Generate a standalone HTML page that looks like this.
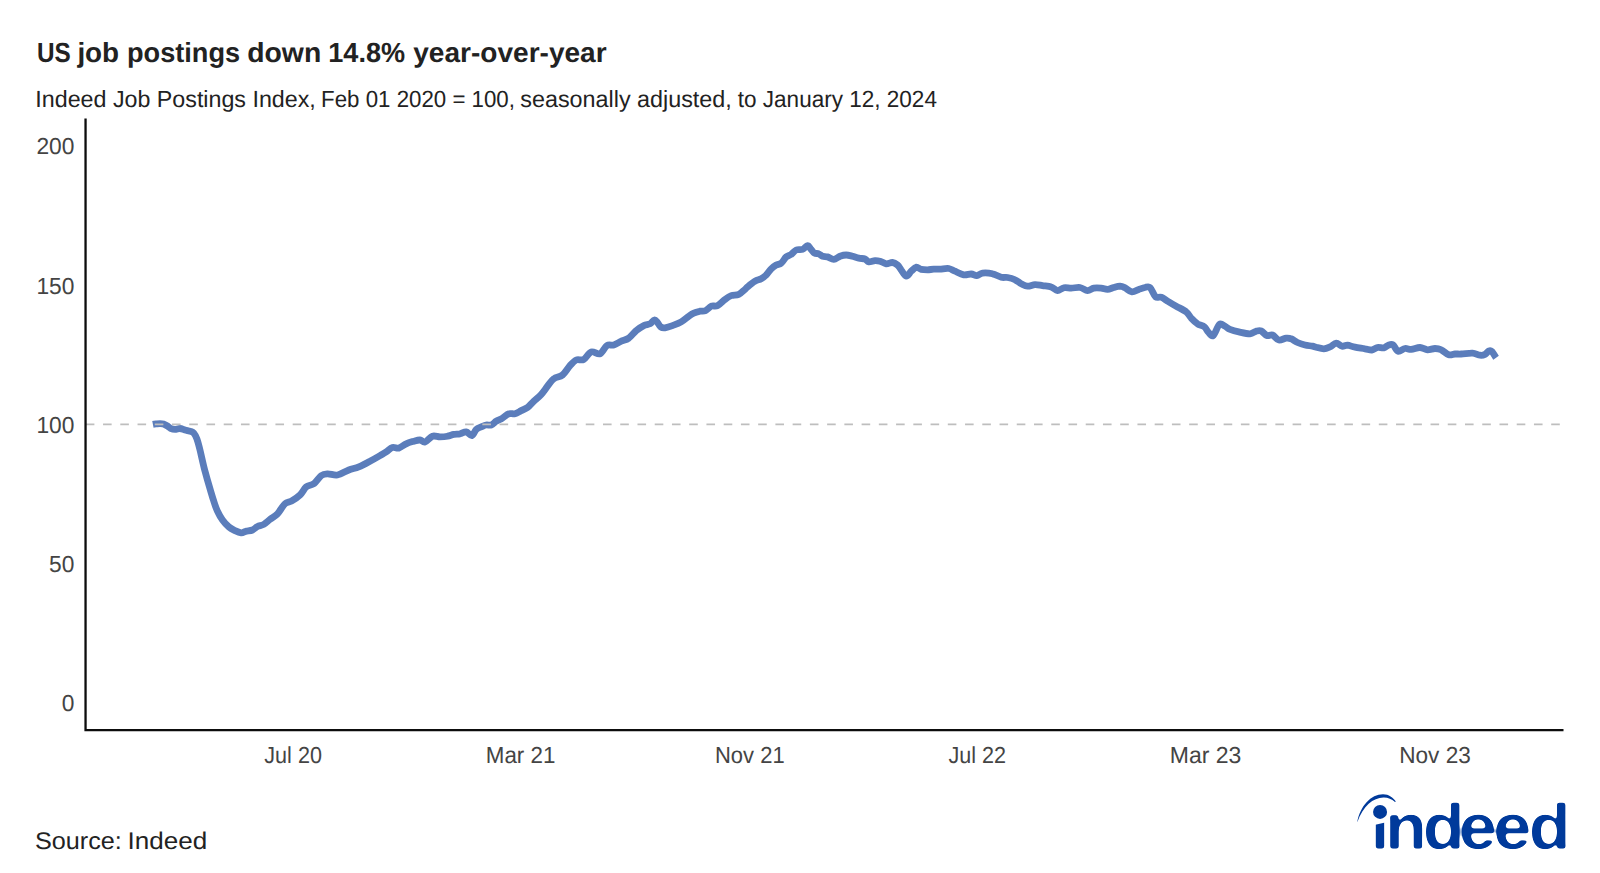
<!DOCTYPE html>
<html lang="en">
<head>
<meta charset="utf-8">
<title>US job postings down 14.8% year-over-year</title>
<style>
html,body{margin:0;padding:0;background:#fff;}
body{width:1600px;height:873px;overflow:hidden;font-family:"Liberation Sans", sans-serif;}
svg{display:block}
text{font-family:"Liberation Sans", sans-serif;text-rendering:geometricPrecision;}
.title{font-weight:700;font-size:27.7px;fill:#222;}
.sub{font-size:23.4px;fill:#222;}
.tick{font-size:23.2px;fill:#444;}
.src{font-size:24.1px;fill:#222;}
.logo{font-weight:700;font-size:64.7px;fill:#003a9b;}
</style>
</head>
<body>
<svg width="1600" height="873" viewBox="0 0 1600 873">
<rect width="1600" height="873" fill="#ffffff"/>
<!-- titles -->
<text class="title" y="61.9"><tspan x="37.06" textLength="33.79" lengthAdjust="spacingAndGlyphs">US</tspan> <tspan x="77.4" textLength="41.73" lengthAdjust="spacingAndGlyphs">job</tspan> <tspan x="127.04" textLength="113.07" lengthAdjust="spacingAndGlyphs">postings</tspan> <tspan x="247.22" textLength="74.0" lengthAdjust="spacingAndGlyphs">down</tspan> <tspan x="328.29" textLength="76.86" lengthAdjust="spacingAndGlyphs">14.8%</tspan> <tspan x="413.25" textLength="193.38" lengthAdjust="spacingAndGlyphs">year-over-year</tspan></text>
<text class="sub" y="107.3"><tspan x="35.36" textLength="280.41" lengthAdjust="spacingAndGlyphs">Indeed Job Postings Index,</tspan> <tspan x="321.1" textLength="193.85" lengthAdjust="spacingAndGlyphs">Feb 01 2020 = 100,</tspan> <tspan x="520.25" textLength="211.56" lengthAdjust="spacingAndGlyphs">seasonally adjusted,</tspan> <tspan x="737.76" textLength="199.19" lengthAdjust="spacingAndGlyphs">to January 12, 2024</tspan></text>
<!-- y tick labels -->
<g>
<text class="tick" x="36.4" y="154.2" textLength="38.0" lengthAdjust="spacingAndGlyphs">200</text>
<text class="tick" x="36.4" y="293.5" textLength="38.0" lengthAdjust="spacingAndGlyphs">150</text>
<text class="tick" x="36.4" y="432.8" textLength="38.0" lengthAdjust="spacingAndGlyphs">100</text>
<text class="tick" x="49.07" y="572.1" textLength="25.33" lengthAdjust="spacingAndGlyphs">50</text>
<text class="tick" x="61.73" y="711.4" textLength="12.67" lengthAdjust="spacingAndGlyphs">0</text>
</g>
<!-- data line -->
<path d="M152.9,424.3C153.4,424.2 154.8,424.0 156.0,423.9C157.2,423.8 158.8,423.6 160.0,423.6C161.2,423.6 162.3,423.6 163.5,424.0C164.7,424.4 165.8,425.1 167.0,425.8C168.2,426.5 169.2,427.7 170.5,428.3C171.8,428.9 173.4,429.4 175.0,429.4C176.6,429.4 178.3,428.4 180.0,428.5C181.7,428.6 183.3,429.5 185.0,430.0C186.7,430.5 188.5,430.7 190.0,431.2C191.5,431.8 192.6,431.9 193.8,433.1C194.9,434.4 195.9,435.9 196.9,438.8C197.9,441.6 198.7,444.6 200.0,450.0C201.3,455.4 203.3,464.8 205.0,471.2C206.7,477.7 208.5,483.8 210.0,488.8C211.5,493.8 212.5,497.5 213.8,501.2C215.0,505.0 216.0,508.1 217.5,511.2C219.0,514.4 220.6,517.4 222.5,520.0C224.4,522.6 226.7,525.1 228.8,526.9C230.8,528.7 232.9,529.6 235.0,530.6C237.1,531.6 239.4,532.6 241.2,532.8C243.1,532.9 244.4,531.7 246.2,531.2C248.1,530.8 250.6,530.8 252.5,530.0C254.4,529.2 255.6,527.4 257.5,526.5C259.4,525.6 261.7,525.6 263.8,524.4C265.8,523.2 267.7,521.2 270.0,519.4C272.3,517.6 275.0,516.4 277.5,513.8C280.0,511.1 282.7,505.8 285.0,503.8C287.3,501.7 288.8,502.7 291.2,501.2C293.8,499.8 297.5,497.4 300.0,495.0C302.5,492.6 304.0,488.8 306.2,486.9C308.5,485.0 311.2,485.6 313.8,483.8C316.2,481.9 319.0,477.3 321.2,475.6C323.5,473.9 324.8,473.9 327.5,473.8C330.2,473.6 334.0,475.6 337.5,475.0C341.0,474.4 345.2,471.4 348.8,470.0C352.3,468.6 355.2,468.4 358.8,466.9C362.3,465.4 366.5,463.1 370.0,461.2C373.5,459.4 377.3,457.2 380.0,455.6C382.7,454.0 384.2,453.2 386.2,451.9C388.3,450.5 390.4,448.1 392.5,447.5C394.6,446.9 396.5,448.7 398.8,448.1C401.0,447.5 403.8,444.9 406.2,443.8C408.8,442.6 411.5,441.9 413.8,441.2C416.0,440.6 418.1,439.9 420.0,440.0C421.9,440.1 422.9,442.5 425.0,441.9C427.1,441.3 430.0,437.1 432.5,436.2C435.0,435.4 437.5,436.9 440.0,436.9C442.5,436.9 445.2,436.7 447.5,436.2C449.8,435.8 451.7,434.8 453.8,434.4C455.8,434.0 457.9,434.2 460.0,433.8C462.1,433.3 464.3,431.6 466.2,431.9C468.2,432.2 470.2,436.0 471.9,435.6C473.6,435.2 474.7,430.8 476.2,429.4C477.8,427.9 479.6,427.6 481.2,426.9C482.9,426.2 484.6,425.3 486.2,425.0C487.9,424.7 489.6,425.6 491.2,425.0C492.9,424.4 494.4,422.4 496.2,421.2C498.1,420.1 500.4,419.4 502.5,418.1C504.6,416.9 506.7,414.5 508.8,413.8C510.8,413.0 512.9,414.3 515.0,413.8C517.1,413.2 519.2,411.6 521.2,410.6C523.3,409.6 525.4,409.1 527.5,407.5C529.6,405.9 531.5,403.4 533.8,401.2C536.0,399.1 539.0,396.9 541.2,394.4C543.5,391.9 545.4,388.9 547.5,386.2C549.6,383.6 551.2,380.6 553.8,378.8C556.2,376.9 559.8,377.2 562.5,375.0C565.2,372.8 567.7,368.1 570.0,365.6C572.3,363.1 574.0,361.0 576.2,360.0C578.5,359.0 581.2,360.8 583.8,359.4C586.2,358.0 588.5,352.8 591.2,351.9C594.0,351.0 597.4,354.8 600.0,353.8C602.6,352.7 604.6,347.1 606.9,345.6C609.2,344.1 611.4,345.7 613.8,345.0C616.1,344.3 618.8,342.4 621.2,341.2C623.8,340.1 626.2,339.9 628.8,338.1C631.2,336.3 633.8,332.7 636.2,330.6C638.8,328.5 641.5,326.7 643.8,325.6C646.0,324.5 648.2,324.7 650.0,323.8C651.8,322.8 653.1,320.2 654.4,320.0C655.6,319.8 656.5,321.4 657.5,322.5C658.5,323.6 659.4,326.0 660.6,326.9C661.9,327.8 663.0,328.0 665.0,327.8C667.0,327.5 669.8,326.6 672.5,325.6C675.2,324.6 678.5,323.5 681.2,321.9C684.0,320.3 686.7,317.7 688.8,316.2C690.8,314.8 691.9,313.9 693.8,313.1C695.6,312.3 698.0,311.7 700.0,311.2C702.0,310.8 703.7,311.4 705.6,310.6C707.5,309.8 709.3,307.1 711.2,306.2C713.2,305.4 715.2,306.7 717.5,305.6C719.8,304.5 722.7,301.1 725.0,299.4C727.3,297.7 729.0,296.4 731.2,295.6C733.5,294.8 736.5,295.4 738.8,294.4C741.0,293.4 743.5,290.6 745.0,289.4C746.5,288.1 745.8,288.3 747.5,286.9C749.2,285.5 752.7,282.6 755.0,281.2C757.3,279.9 759.4,279.8 761.2,278.8C763.1,277.7 764.6,276.7 766.2,275.0C767.9,273.3 769.6,270.4 771.2,268.8C772.9,267.1 774.6,265.9 776.2,265.0C777.9,264.1 779.6,264.5 781.2,263.1C782.9,261.8 784.6,258.3 786.2,256.9C787.9,255.4 789.6,255.6 791.2,254.4C792.9,253.2 794.4,250.8 796.2,250.0C798.1,249.2 800.6,250.1 802.5,249.4C804.4,248.7 806.1,245.7 807.5,245.6C808.9,245.5 809.5,247.5 810.6,248.8C811.8,250.0 813.0,252.3 814.4,253.1C815.8,253.9 817.4,253.2 818.8,253.8C820.1,254.3 821.0,255.7 822.5,256.2C824.0,256.8 825.6,256.4 827.5,256.9C829.4,257.4 831.7,259.5 833.8,259.4C835.8,259.3 837.9,257.0 840.0,256.2C842.1,255.5 844.2,255.0 846.2,255.0C848.3,255.0 850.4,255.7 852.5,256.2C854.6,256.8 856.7,257.6 858.8,258.1C860.8,258.6 863.3,258.4 865.0,259.0C866.7,259.6 867.1,261.6 868.8,261.9C870.4,262.2 873.1,260.7 875.0,260.6C876.9,260.5 878.1,260.7 880.0,261.2C881.9,261.8 884.2,263.5 886.2,263.8C888.3,264.0 890.6,262.3 892.5,262.5C894.4,262.7 896.0,263.8 897.5,265.0C899.0,266.2 899.8,268.1 901.2,270.0C902.7,271.9 904.6,276.0 906.2,276.2C907.9,276.5 909.6,272.8 911.2,271.2C912.9,269.8 914.6,267.6 916.2,267.2C917.9,266.9 919.4,269.0 921.2,269.4C923.1,269.8 925.4,269.8 927.5,269.8C929.6,269.7 931.7,269.3 933.8,269.2C935.8,269.1 937.5,269.2 940.0,269.1C942.5,269.0 946.2,268.1 948.8,268.5C951.2,268.9 952.5,270.2 955.0,271.2C957.5,272.3 961.0,274.3 963.8,274.8C966.5,275.2 969.1,273.9 971.2,274.0C973.4,274.1 975.0,275.8 976.9,275.6C978.8,275.5 979.9,273.4 982.5,273.1C985.1,272.8 989.4,273.1 992.5,273.8C995.6,274.4 998.8,276.6 1001.2,277.2C1003.8,277.9 1005.2,277.1 1007.5,277.5C1009.8,277.9 1012.7,278.7 1015.0,279.8C1017.3,280.8 1019.2,282.7 1021.2,283.8C1023.3,284.8 1025.2,286.1 1027.5,286.2C1029.8,286.4 1032.5,284.7 1035.0,284.6C1037.5,284.5 1039.8,285.2 1042.5,285.6C1045.2,286.0 1048.8,286.1 1051.2,286.9C1053.8,287.7 1055.4,290.5 1057.5,290.6C1059.6,290.7 1061.5,288.2 1063.8,287.8C1066.0,287.3 1068.5,288.1 1071.2,288.1C1074.0,288.1 1077.3,287.1 1080.0,287.5C1082.7,287.9 1085.2,290.5 1087.5,290.6C1089.8,290.7 1091.5,288.5 1093.8,288.1C1096.0,287.7 1099.0,287.9 1101.2,288.1C1103.5,288.3 1105.4,289.5 1107.5,289.4C1109.6,289.3 1111.7,288.1 1113.8,287.5C1115.8,286.9 1118.1,286.1 1120.0,286.1C1121.9,286.2 1123.0,286.8 1125.0,287.8C1127.0,288.8 1129.6,291.6 1131.9,291.9C1134.2,292.2 1136.6,290.1 1138.8,289.4C1140.9,288.7 1143.1,287.8 1145.0,287.5C1146.9,287.2 1148.2,285.9 1150.0,287.5C1151.8,289.1 1153.7,295.3 1155.6,296.9C1157.5,298.5 1159.1,296.4 1161.2,297.2C1163.4,298.1 1166.2,300.4 1168.8,301.9C1171.2,303.4 1173.3,304.6 1176.2,306.2C1179.2,307.9 1183.8,309.9 1186.2,311.9C1188.8,313.9 1189.4,316.1 1191.2,318.1C1193.1,320.1 1195.3,322.3 1197.5,323.8C1199.7,325.2 1202.6,325.5 1204.4,326.9C1206.2,328.3 1206.6,330.4 1208.1,331.9C1209.5,333.3 1211.2,336.9 1213.1,335.6C1215.0,334.4 1217.4,326.0 1219.4,324.4C1221.4,322.8 1223.2,325.4 1225.0,326.2C1226.8,327.1 1227.7,328.5 1230.0,329.4C1232.3,330.3 1235.4,331.2 1238.8,331.9C1242.1,332.6 1247.1,333.9 1250.0,333.8C1252.9,333.6 1254.4,331.7 1256.2,331.2C1258.1,330.8 1259.5,330.3 1261.2,331.0C1263.0,331.7 1265.0,334.9 1266.9,335.6C1268.8,336.3 1270.5,334.3 1272.5,335.0C1274.5,335.7 1276.5,339.5 1278.8,340.0C1281.0,340.5 1284.2,338.3 1286.2,338.1C1288.3,337.9 1289.4,338.0 1291.2,338.8C1293.1,339.5 1295.2,341.5 1297.5,342.5C1299.8,343.5 1302.5,344.4 1305.0,345.0C1307.5,345.6 1310.6,345.8 1312.5,346.2C1314.4,346.6 1314.4,346.8 1316.2,347.2C1318.1,347.7 1321.5,348.8 1323.8,348.8C1326.0,348.7 1327.9,347.8 1330.0,346.9C1332.1,346.0 1334.3,343.2 1336.2,343.1C1338.2,343.0 1340.0,345.9 1341.9,346.2C1343.8,346.6 1345.3,345.1 1347.5,345.2C1349.7,345.4 1352.1,346.7 1355.0,347.2C1357.9,347.8 1362.2,348.3 1365.0,348.8C1367.8,349.2 1369.8,350.2 1371.9,350.0C1374.0,349.8 1375.5,347.9 1377.5,347.5C1379.5,347.1 1381.9,348.3 1383.8,347.9C1385.6,347.5 1387.2,345.5 1388.8,345.0C1390.3,344.5 1391.5,344.0 1393.1,345.0C1394.7,346.0 1396.1,350.7 1398.1,351.2C1400.1,351.8 1402.8,348.8 1405.0,348.5C1407.2,348.2 1408.8,349.6 1411.2,349.4C1413.8,349.2 1417.3,347.4 1420.0,347.5C1422.7,347.6 1425.0,349.6 1427.5,349.8C1430.0,349.9 1432.7,348.5 1435.0,348.5C1437.3,348.5 1439.0,348.7 1441.2,349.8C1443.5,350.8 1446.5,354.0 1448.8,354.8C1451.0,355.5 1452.9,354.1 1455.0,354.0C1457.1,353.9 1458.3,354.1 1461.2,354.0C1464.2,353.9 1469.4,352.9 1472.5,353.1C1475.6,353.3 1477.9,355.0 1480.0,355.2C1482.1,355.5 1483.5,355.1 1485.0,354.4C1486.5,353.7 1487.6,351.5 1488.8,351.0C1489.9,350.5 1490.7,350.4 1491.9,351.5C1493.1,352.6 1495.4,356.8 1496.1,357.8" fill="none" stroke="#5b7dbb" stroke-width="6.8" stroke-linejoin="round" stroke-linecap="butt"/>
<!-- reference line at 100 -->
<line x1="85.8" y1="424.4" x2="1564" y2="424.4" stroke="#bebebe" stroke-width="1.9" stroke-dasharray="8.6 8.64"/>
<!-- axes -->
<path d="M85.55,118.4V730.2H1563.5" fill="none" stroke="#0d0d0d" stroke-width="2.3" stroke-linejoin="miter"/>
<!-- x tick labels -->
<g>
<text class="tick" x="264.3" y="763.1" textLength="57.6" lengthAdjust="spacingAndGlyphs">Jul 20</text>
<text class="tick" x="485.8" y="763.1" textLength="69.6" lengthAdjust="spacingAndGlyphs">Mar 21</text>
<text class="tick" x="715.0" y="763.1" textLength="69.6" lengthAdjust="spacingAndGlyphs">Nov 21</text>
<text class="tick" x="948.5" y="763.1" textLength="57.6" lengthAdjust="spacingAndGlyphs">Jul 22</text>
<text class="tick" x="1169.8" y="763.1" textLength="71.6" lengthAdjust="spacingAndGlyphs">Mar 23</text>
<text class="tick" x="1399.2" y="763.1" textLength="71.6" lengthAdjust="spacingAndGlyphs">Nov 23</text>
</g>
<text class="src" y="849.3"><tspan x="34.94" textLength="86.86" lengthAdjust="spacingAndGlyphs">Source:</tspan> <tspan x="127.47" textLength="79.7" lengthAdjust="spacingAndGlyphs">Indeed</tspan></text>
<!-- indeed logo -->
<g>
<defs><filter id="rnd" x="-5%" y="-10%" width="110%" height="120%" color-interpolation-filters="sRGB"><feGaussianBlur stdDeviation="1.6"/><feComponentTransfer><feFuncA type="linear" slope="5" intercept="-2.6"/></feComponentTransfer></filter></defs>
<text class="logo" filter="url(#rnd)" transform="translate(0,849.4) scale(1.06,1)" x="1293.02 1306.72 1342.13 1376.19 1408.74 1442.27" y="0">indeed</text>
<path d="M1370,795H1389.5V821.6L1370,826Z" fill="#fff"/>
<circle cx="1380.05" cy="811.9" r="7" fill="#003a9b"/>
<path d="M1357.2,822.6C1360,806 1371,794.3 1383,794.25C1389,794.3 1393,797.5 1395.8,801.4L1395,802C1391.5,799 1388,797.4 1383.5,797.5C1373,797.8 1363.3,805.5 1357.2,822.6Z" fill="#003a9b"/>
</g>
</svg>
</body>
</html>
